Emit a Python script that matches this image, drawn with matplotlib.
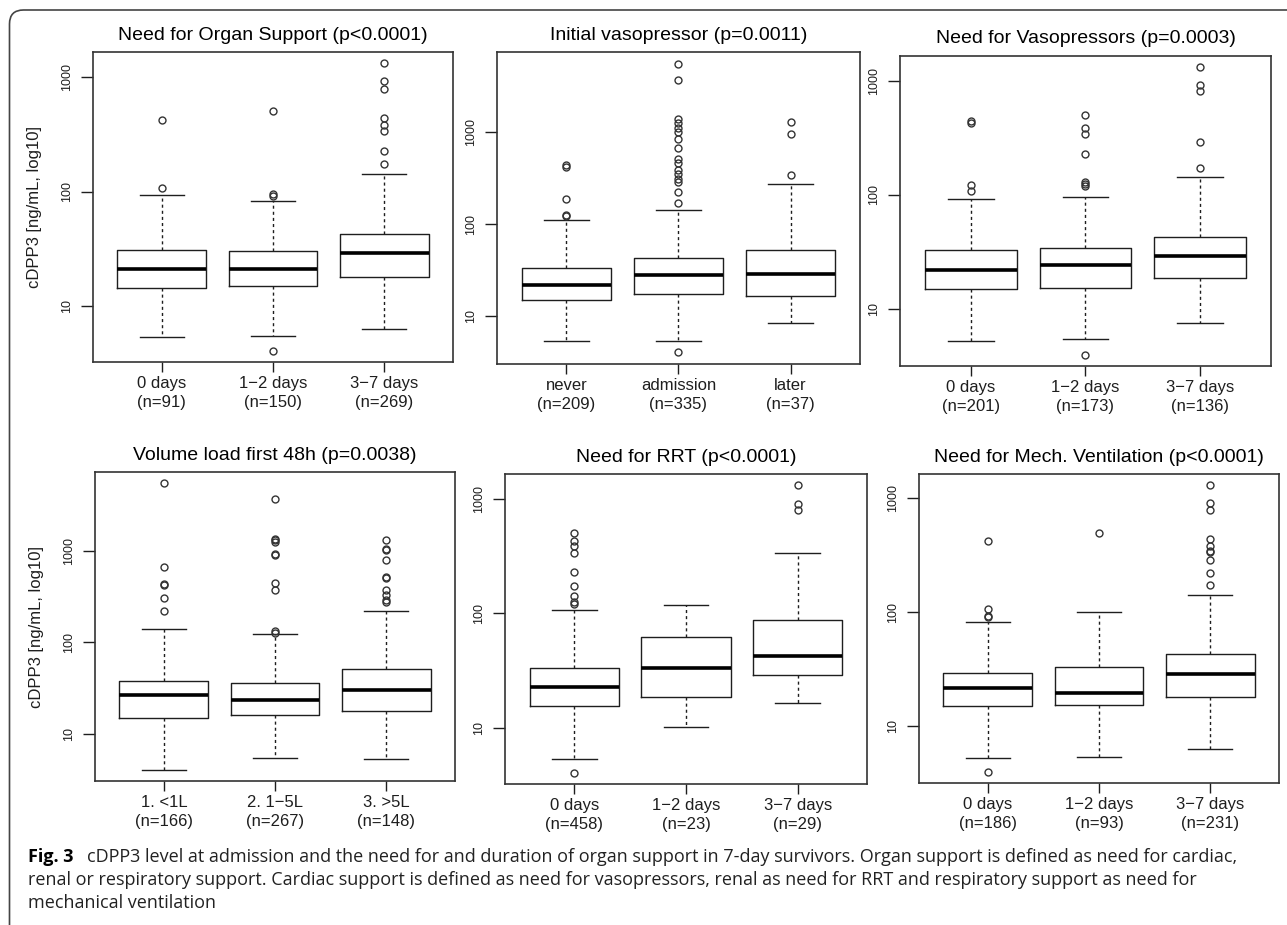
import numpy as np
import matplotlib
matplotlib.use('Agg')
import matplotlib.pyplot as plt
from matplotlib.patches import FancyBboxPatch

W, H = 1287, 925

# box stats per group: [whisker low, Q1, median, Q3, whisker high]
organ_title = 'Need for Organ Support (p<0.0001)'
organ_labels = ['0 days\n(n=91)', '1\u22122 days\n(n=150)', '3\u22127 days\n(n=269)']
organ_stats = [[5.3, 14.2, 21.0, 30.8, 92.5],
               [5.4, 14.9, 21.0, 30.0, 82.6],
               [6.2, 17.7, 28.6, 42.0, 142.6]]
organ_out = [[108, 425],
             [4.03, 92, 95, 509],
             [173, 227, 340, 381, 443, 800, 935, 1327]]

init_title = 'Initial vasopressor (p=0.0011)'
init_labels = ['never\n(n=209)', 'admission\n(n=335)', 'later\n(n=37)']
init_stats = [[5.4, 15.1, 22.1, 33.5, 111],
              [5.4, 17.5, 28.1, 43.0, 142],
              [8.47, 16.6, 28.8, 53.0, 274]]
init_out = [[122, 127, 187, 420, 435],
            [4.06, 171, 223, 286, 311, 347, 383, 464, 513, 676, 832, 1000,
             1114, 1262, 1396, 3673, 5530],
            [341, 944, 1295]]

vaso_title = 'Need for Vasopressors (p=0.0003)'
vaso_labels = ['0 days\n(n=201)', '1\u22122 days\n(n=173)', '3\u22127 days\n(n=136)']
vaso_stats = [[5.3, 14.9, 22.2, 32.8, 92.3],
              [5.47, 15.3, 24.3, 34.2, 95.5],
              [7.55, 18.8, 29.1, 42.6, 143]]
vaso_out = [[109, 121.6, 423, 441],
            [4.0, 119, 126, 129, 227, 342, 386, 505],
            [173, 289, 807, 916, 1309]]

vol_title = 'Volume load first 48h (p=0.0038)'
vol_labels = ['1. <1L\n(n=166)', '2. 1\u22125L\n(n=267)', '3. >5L\n(n=148)']
vol_stats = [[4.08, 15.0, 26.5, 38.0, 139],
             [5.42, 16.0, 23.7, 36.4, 122],
             [5.33, 17.7, 30.5, 51.3, 219]]
vol_out = [[221, 309, 425, 439, 668, 5450],
           [127, 132, 378, 451, 903, 933, 1253, 1309, 1352, 3670],
           [277, 289, 327, 378, 502, 520, 790, 1016, 1048, 1309]]

rrt_title = 'Need for RRT (p<0.0001)'
rrt_labels = ['0 days\n(n=458)', '1\u22122 days\n(n=23)', '3\u22127 days\n(n=29)']
rrt_stats = [[5.32, 15.5, 22.8, 33.4, 107],
             [10.07, 18.4, 33.0, 62.0, 117],
             [16.3, 29.0, 42.0, 87.7, 337]]
rrt_out = [[4.05, 121, 125, 141, 173, 226, 337, 386, 427, 505],
           [],
           [796, 904, 1300]]

mech_title = 'Need for Mech. Ventilation (p<0.0001)'
mech_labels = ['0 days\n(n=186)', '1\u22122 days\n(n=93)', '3\u22127 days\n(n=231)']
mech_stats = [[5.3, 15.0, 21.7, 29.4, 81.7],
              [5.37, 15.3, 19.8, 33.0, 100],
              [6.3, 18.0, 29.0, 43.5, 142]]
mech_out = [[4.02, 90.4, 92.9, 108, 422],
            [502],
            [173, 223, 289, 340, 347, 384, 439, 794, 903, 1300]]

ylab = 'cDPP3 [ng/mL, log10]'

caption_head = 'Fig. 3'
caption_l1 = ('cDPP3 level at admission and the need for and duration of organ support '
              'in 7-day survivors. Organ support is defined as need for cardiac,')
caption_l2 = ('renal or respiratory support. Cardiac support is defined as need for '
              'vasopressors, renal as need for RRT and respiratory support as need for')
caption_l3 = 'mechanical ventilation'

# panel boxes in pixels: left, top, right, bottom
panels = [
    (organ_title, organ_labels, organ_stats, organ_out, (93, 52, 453, 362), True),
    (init_title, init_labels, init_stats, init_out, (497, 52, 860, 364), False),
    (vaso_title, vaso_labels, vaso_stats, vaso_out, (900, 56, 1271, 366), False),
    (vol_title, vol_labels, vol_stats, vol_out, (95, 472, 455, 781), True),
    (rrt_title, rrt_labels, rrt_stats, rrt_out, (505, 474, 867, 784), False),
    (mech_title, mech_labels, mech_stats, mech_out, (919, 474, 1279, 783), False),
]

plt.rcParams['font.family'] = ['Liberation Sans', 'DejaVu Sans']
ink = '#1e1e1e'

fig = plt.figure(figsize=(W / 100, H / 100), dpi=100)
fig.patch.set_facecolor('white')

for title, labels, stats, outs, (l, t, r, b), show_ylab in panels:
    ax = fig.add_axes([l / W, 1 - b / H, (r - l) / W, (b - t) / H])
    bstats = []
    for s, o, lab in zip(stats, outs, labels):
        bstats.append({'whislo': s[0], 'q1': s[1], 'med': s[2], 'q3': s[3],
                       'whishi': s[4], 'fliers': np.array(o, dtype=float), 'label': lab})
    ax.bxp(bstats, positions=[1, 2, 3], widths=0.8, capwidths=0.4,
           boxprops=dict(color=ink, lw=1.0),
           medianprops=dict(color='black', lw=2.6, solid_capstyle='butt'),
           whiskerprops=dict(color=ink, lw=1.0, linestyle=(0, (2.2, 2.2))),
           capprops=dict(color=ink, lw=1.0),
           flierprops=dict(marker='o', markersize=5, markerfacecolor='none',
                           markeredgecolor='#333333', markeredgewidth=1.0))
    ax.set_yscale('log')
    ax.margins(y=0.04)
    ax.set_xlim(0.38, 3.62)
    ax.set_yticks([10, 100, 1000])
    ax.set_yticklabels(['10', '100', '1000'], rotation=90, va='center')
    ax.yaxis.set_minor_locator(matplotlib.ticker.NullLocator())
    ax.tick_params(axis='y', length=9, width=1, pad=5, labelsize=9, colors=ink)
    ax.tick_params(axis='x', length=7, width=1, pad=3, labelsize=12, colors=ink)
    for lab in ax.get_xticklabels():
        lab.set_linespacing(1.35)
    for sp in ax.spines.values():
        sp.set_color('#333333')
        sp.set_linewidth(1.2)
    ax.set_title(title, fontsize=14, pad=9, color='black')
    if show_ylab:
        ax.set_ylabel(ylab, fontsize=12, labelpad=14, color=ink)

# rounded frame around the figure
frame = FancyBboxPatch((9.5, -40), 1400, H - 10 + 40, boxstyle='round,pad=0,rounding_size=14',
                       transform=None, facecolor='none', edgecolor='#444444', lw=1.2)
fig.patches.append(frame)

cap_font = ['Open Sans', 'DejaVu Sans']
fig.text(28 / W, 1 - 857 / H, caption_head, fontsize=13, fontweight='bold',
         family=cap_font, va='center', ha='left', color='black')
fig.text(87 / W, 1 - 857 / H, caption_l1, fontsize=13, family=cap_font,
         va='center', ha='left', color='#222222')
fig.text(28 / W, 1 - 880 / H, caption_l2, fontsize=13, family=cap_font,
         va='center', ha='left', color='#222222')
fig.text(28 / W, 1 - 903 / H, caption_l3, fontsize=13, family=cap_font,
         va='center', ha='left', color='#222222')

fig.savefig('out.png', dpi=100)
